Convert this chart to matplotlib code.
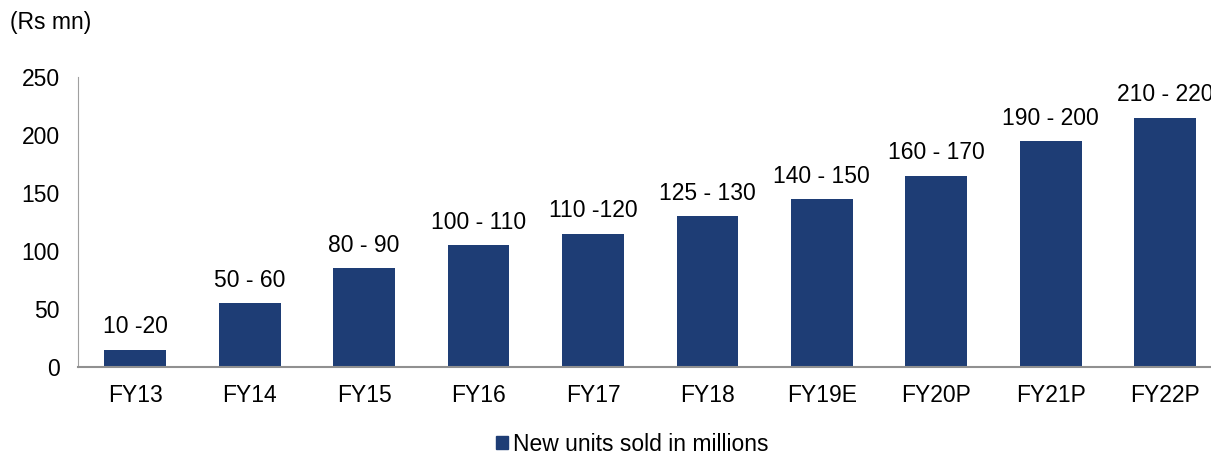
import matplotlib.pyplot as plt
from matplotlib.patches import Patch

plt.rcParams['font.family'] = ['Liberation Sans', 'DejaVu Sans']

years = ['FY13', 'FY14', 'FY15', 'FY16', 'FY17', 'FY18', 'FY19E', 'FY20P', 'FY21P', 'FY22P']
units = [15, 55, 85, 105, 115, 130, 145, 165, 195, 215]
ranges = ['10 -20', '50 - 60', '80 - 90', '100 - 110', '110 -120', '125 - 130',
          '140 - 150', '160 - 170', '190 - 200', '210 - 220']

bar_color = '#1e3d75'
fs = 16.5

fig = plt.figure(figsize=(12.11, 4.55), dpi=100)
ax = fig.add_axes([0.0644, 0.1934, 0.945, 0.6374])

x = range(len(years))
bars = ax.bar(x, units, width=0.54, color=bar_color)
for b, lab in zip(bars, ranges):
    ax.annotate(lab, (b.get_x() + b.get_width() / 2, b.get_height()),
                xytext=(0, 8), textcoords='offset points',
                ha='center', va='bottom', fontsize=fs)

ax.set_xlim(-0.5, len(years) - 0.5)
ax.set_ylim(0, 250)
ax.set_yticks(range(0, 251, 50))
ax.set_xticks(list(x))
ax.set_xticklabels(years)
ax.tick_params(axis='both', length=0, labelsize=fs)
ax.tick_params(axis='x', pad=12)
ax.tick_params(axis='y', pad=13)

for s in ['top', 'right']:
    ax.spines[s].set_visible(False)
ax.spines['left'].set_color('#a0a0a0')
ax.spines['bottom'].set_color('#909090')
ax.spines['bottom'].set_linewidth(1.5)

fig.text(0.008, 0.95, '(Rs mn)', fontsize=fs, va='center', ha='left')

fig.legend(handles=[Patch(color=bar_color, label='New units sold in millions')],
           loc='center', bbox_to_anchor=(0.522, 0.024), frameon=False,
           fontsize=fs, handlelength=0.55, handleheight=0.55, handletextpad=0.2,
           borderpad=0.2)

fig.savefig('out.png', dpi=100)
